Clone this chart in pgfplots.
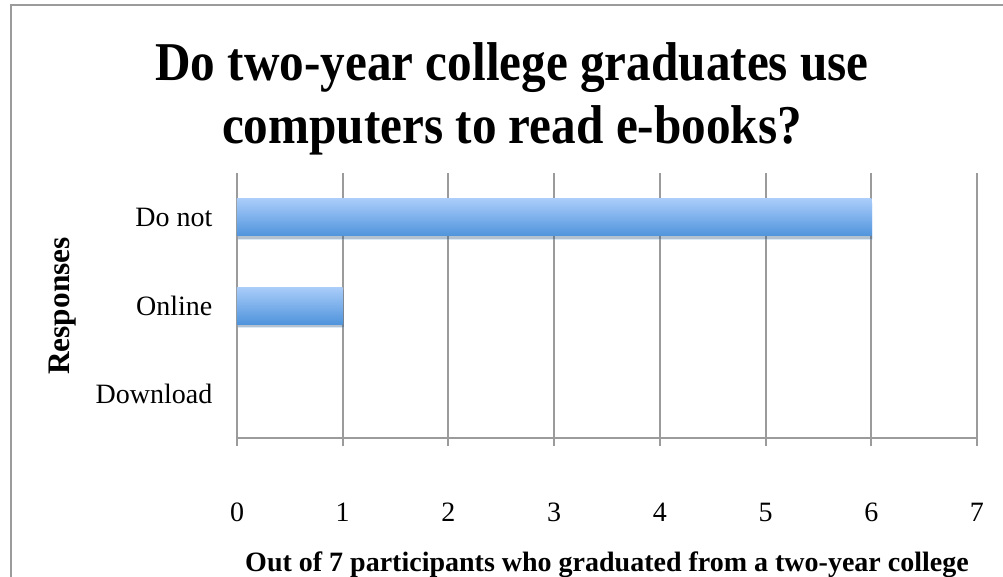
\documentclass[border=0pt]{standalone}
\usepackage{pgfplots}
\pgfplotsset{compat=1.18}
\usepackage{fontspec}
\setmainfont{Liberation Serif}
\newfontfamily\titlefont{Liberation Serif}[FakeStretch=0.9]
\usetikzlibrary{shadows}
\definecolor{gridgray}{RGB}{155,155,155}
\definecolor{bartop}{RGB}{170,205,250}
\definecolor{barbot}{RGB}{80,148,220}
\begin{document}
\begin{tikzpicture}
\useasboundingbox (0,0) rectangle (752.25pt,-432.75pt);
\draw[gridgray, line width=1.5pt] (7.875pt,-432.75pt) -- (7.875pt,-3.75pt) -- (752.25pt,-3.75pt);
\node[font=\titlefont\bfseries\fontsize{41}{47}\selectfont, align=center] at (384pt,-74pt) {Do two-year college graduates use\\computers to read e-books?};
\begin{axis}[
  at={(177.75pt,-328.5pt)}, anchor=south west,
  scale only axis, width=555pt, height=198.75pt,
  xmin=0, xmax=7, ymin=-0.5, ymax=2.5,
  axis x line*=bottom, axis y line*=left,
  axis line style={gridgray, line width=1.4pt},
  xtick={0,1,2,3,4,5,6,7},
  ytick={0,1,2},
  yticklabels={Download,Online,Do not},
  minor ytick={-0.5,0.5,1.5,2.5},
  tick align=outside,
  major tick length=6pt,
  minor tick length=4.5pt,
  every tick/.style={gridgray, line width=1.4pt},
  ytick style={draw=none},
  minor tick style={draw=gridgray, line width=1.4pt},
  xmajorgrids,
  major grid style={gridgray, line width=1.4pt},
  tick label style={font=\fontsize{21}{25}\selectfont},
  /pgf/number format/assume math mode=true,
  xticklabel style={anchor=center, yshift=-50pt},
  yticklabel style={anchor=east, xshift=-9pt},
  xlabel={Out of 7 participants who graduated from a two-year college},
  xlabel style={font=\bfseries\fontsize{21}{25}\selectfont, at={(axis description cs:0.5,-0.478)}, anchor=center},
  ylabel={Responses},
  ylabel style={font=\bfseries\fontsize{23.5}{27}\selectfont, at={(axis description cs:-0.2351,0.498)}, anchor=center},
  clip=false,
]
\addplot[xbar, bar width=27.75pt, bar shift=0pt, draw=none, top color=bartop, bottom color=barbot,
  drop shadow={shadow xshift=0.8pt, shadow yshift=-2.5pt, fill=black, opacity=0.2}]
  coordinates {(6,2)};
\addplot[xbar, bar width=27.75pt, bar shift=0pt, draw=none, top color=bartop, bottom color=barbot,
  drop shadow={shadow xshift=0.8pt, shadow yshift=-2.5pt, fill=black, opacity=0.2}]
  coordinates {(1,1)};
\addplot[xbar, bar width=27.75pt, bar shift=0pt, draw=none, top color=bartop, bottom color=barbot]
  coordinates {(0,0)};
\end{axis}
\end{tikzpicture}
\end{document}
